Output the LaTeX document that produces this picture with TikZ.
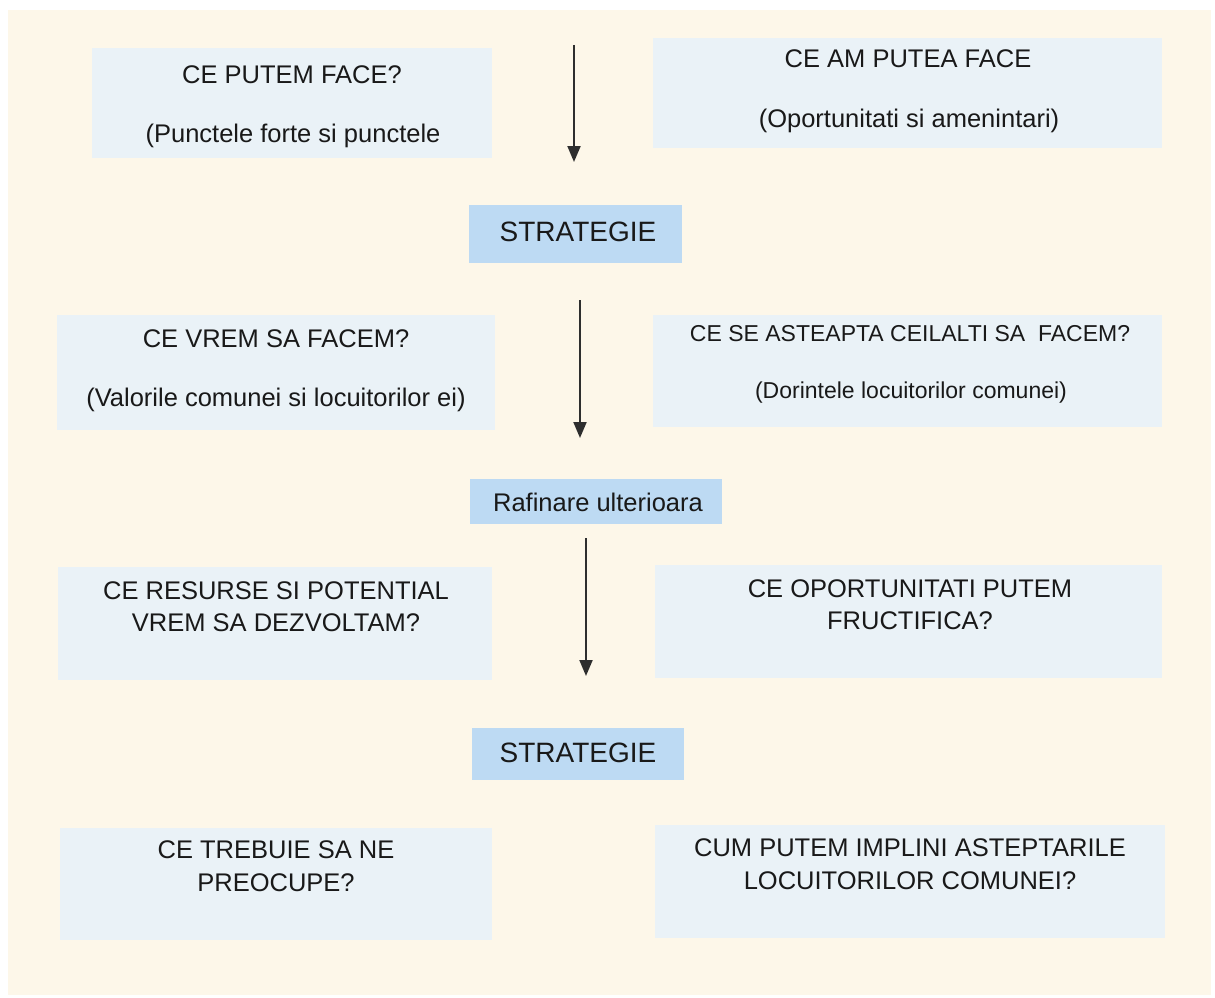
\documentclass[tikz,border=0pt]{standalone}
\usepackage{fontspec}
\setmainfont{Liberation Sans}
\usetikzlibrary{arrows.meta}
\definecolor{cream}{HTML}{FDF7E9}
\definecolor{boxblue}{HTML}{EAF2F7}
\definecolor{stratblue}{HTML}{BDDAF3}
\definecolor{arrowgray}{HTML}{2E2E2E}
\tikzset{
  panel/.style={fill=boxblue, draw=none, inner sep=0pt},
  stratbox/.style={fill=stratblue, draw=none, inner sep=0pt},
  txt/.style={anchor=base, inner sep=0pt, font=\fontsize{25.5}{30}\selectfont, text=black!90},
  smalltxt/.style={anchor=base, inner sep=0pt, font=\fontsize{23}{28}\selectfont, text=black!90},
  bigtxt/.style={anchor=base, inner sep=0pt, font=\fontsize{28}{34}\selectfont, text=black!90},
  flow/.style={draw=arrowgray, line width=2pt, -{Triangle[length=16pt,width=13pt]}}
}
\newcommand{\boxat}[6][panel]{%
  \node[#1, minimum width=#5-#3, minimum height=#6-#4] (#2) at ({(#3+#5)/2},{(#4+#6)/2}) {};}
\begin{document}
\begin{tikzpicture}[x=1pt,y=-1pt]
\useasboundingbox (0,0) rectangle (1215,998);
\fill[white] (0,0) rectangle (1215,998);
\fill[cream] (8,10) rectangle (1211,995);
% boxes
\boxat{b1}{92}{48}{492}{158}
\boxat{b2}{653}{38}{1162}{148}
\boxat[stratbox]{s1}{469}{205}{682}{263}
\boxat{b3}{57}{315}{495}{430}
\boxat{b4}{653}{315}{1162}{427}
\boxat[stratbox]{raf}{470}{479}{722}{524}
\boxat{b5}{58}{567}{492}{680}
\boxat{b6}{655}{565}{1162}{678}
\boxat[stratbox]{s2}{472}{728}{684}{780}
\boxat{b7}{60}{828}{492}{940}
\boxat{b8}{655}{825}{1165}{938}
% texts
\node[txt] (t1a) at (292,83) {CE PUTEM FACE?};
\node[txt] (t1b) at (293,142) {(Punctele forte si punctele};
\node[txt] (t2a) at (908,67) {CE AM PUTEA FACE};
\node[txt] (t2b) at (909,127) {(Oportunitati si amenintari)};
\node[bigtxt] (ts1) at (578,241) {STRATEGIE};
\node[txt] (t3a) at (276,347) {CE VREM SA FACEM?};
\node[txt] (t3b) at (276,406) {(Valorile comunei si locuitorilor ei)};
\node[smalltxt] (t4a) at (910,341) {CE SE ASTEAPTA CEILALTI SA\ \ FACEM?};
\node[smalltxt] (t4b) at (911,398) {(Dorintele locuitorilor comunei)};
\node[txt] (traf) at (598,511) {Rafinare ulterioara};
\node[txt] (t5a) at (276,599) {CE RESURSE SI POTENTIAL};
\node[txt] (t5b) at (276,631) {VREM SA DEZVOLTAM?};
\node[txt] (t6a) at (910,597) {CE OPORTUNITATI PUTEM};
\node[txt] (t6b) at (910,629) {FRUCTIFICA?};
\node[bigtxt] (ts2) at (578,762) {STRATEGIE};
\node[txt] (t7a) at (276,858) {CE TREBUIE SA NE};
\node[txt] (t7b) at (276,891) {PREOCUPE?};
\node[txt] (t8a) at (910,856) {CUM PUTEM IMPLINI ASTEPTARILE};
\node[txt] (t8b) at (910,889) {LOCUITORILOR COMUNEI?};
% arrows
\coordinate (a1s) at (574,45);  \coordinate (a1e) at (574,162);
\coordinate (a2s) at (580,300); \coordinate (a2e) at (580,438);
\coordinate (a3s) at (586,538); \coordinate (a3e) at (586,676);
\draw[flow] (a1s) -- (a1e);
\draw[flow] (a2s) -- (a2e);
\draw[flow] (a3s) -- (a3e);
\end{tikzpicture}
\end{document}
